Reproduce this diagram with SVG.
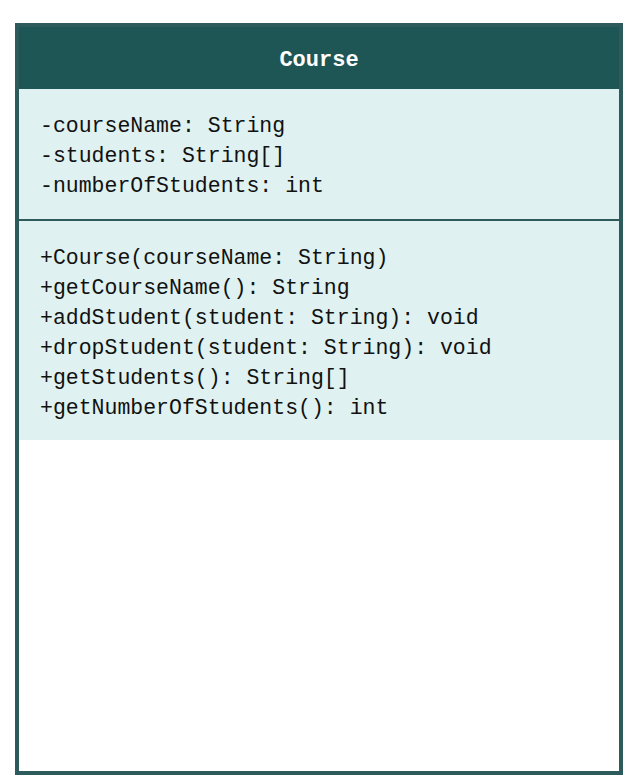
<svg xmlns="http://www.w3.org/2000/svg" width="632" height="779" viewBox="0 0 632 779">
<style>
.t{font-family:"Liberation Mono","DejaVu Sans Mono",monospace;font-size:21.5px;fill:#111111}
.h{font-family:"Liberation Mono","DejaVu Sans Mono",monospace;font-size:22px;font-weight:bold;fill:#ffffff}
</style>
<rect width="632" height="779" fill="#ffffff"/>
<g id="course">
<rect x="17" y="25" width="604" height="748" fill="#ffffff"/>
<rect x="19" y="27" width="600" height="62" fill="#1e5555"/>
<rect x="19" y="89" width="600" height="351" fill="#dff1f0"/>
<line x1="19" y1="220" x2="619" y2="220" stroke="#2d5a5a" stroke-width="2"/>
<rect x="17" y="25" width="604" height="748" fill="none" stroke="#2d5a5a" stroke-width="4"/>
<text class="h" x="319" y="66" text-anchor="middle">Course</text>
<text class="t" x="40" y="132">-courseName: String</text>
<text class="t" x="40" y="162">-students: String[]</text>
<text class="t" x="40" y="192">-numberOfStudents: int</text>
<text class="t" x="40" y="264">+Course(courseName: String)</text>
<text class="t" x="40" y="294">+getCourseName(): String</text>
<text class="t" x="40" y="324">+addStudent(student: String): void</text>
<text class="t" x="40" y="354">+dropStudent(student: String): void</text>
<text class="t" x="40" y="384">+getStudents(): String[]</text>
<text class="t" x="40" y="414">+getNumberOfStudents(): int</text>
</g>
<g id="connectors"></g>
</svg>
